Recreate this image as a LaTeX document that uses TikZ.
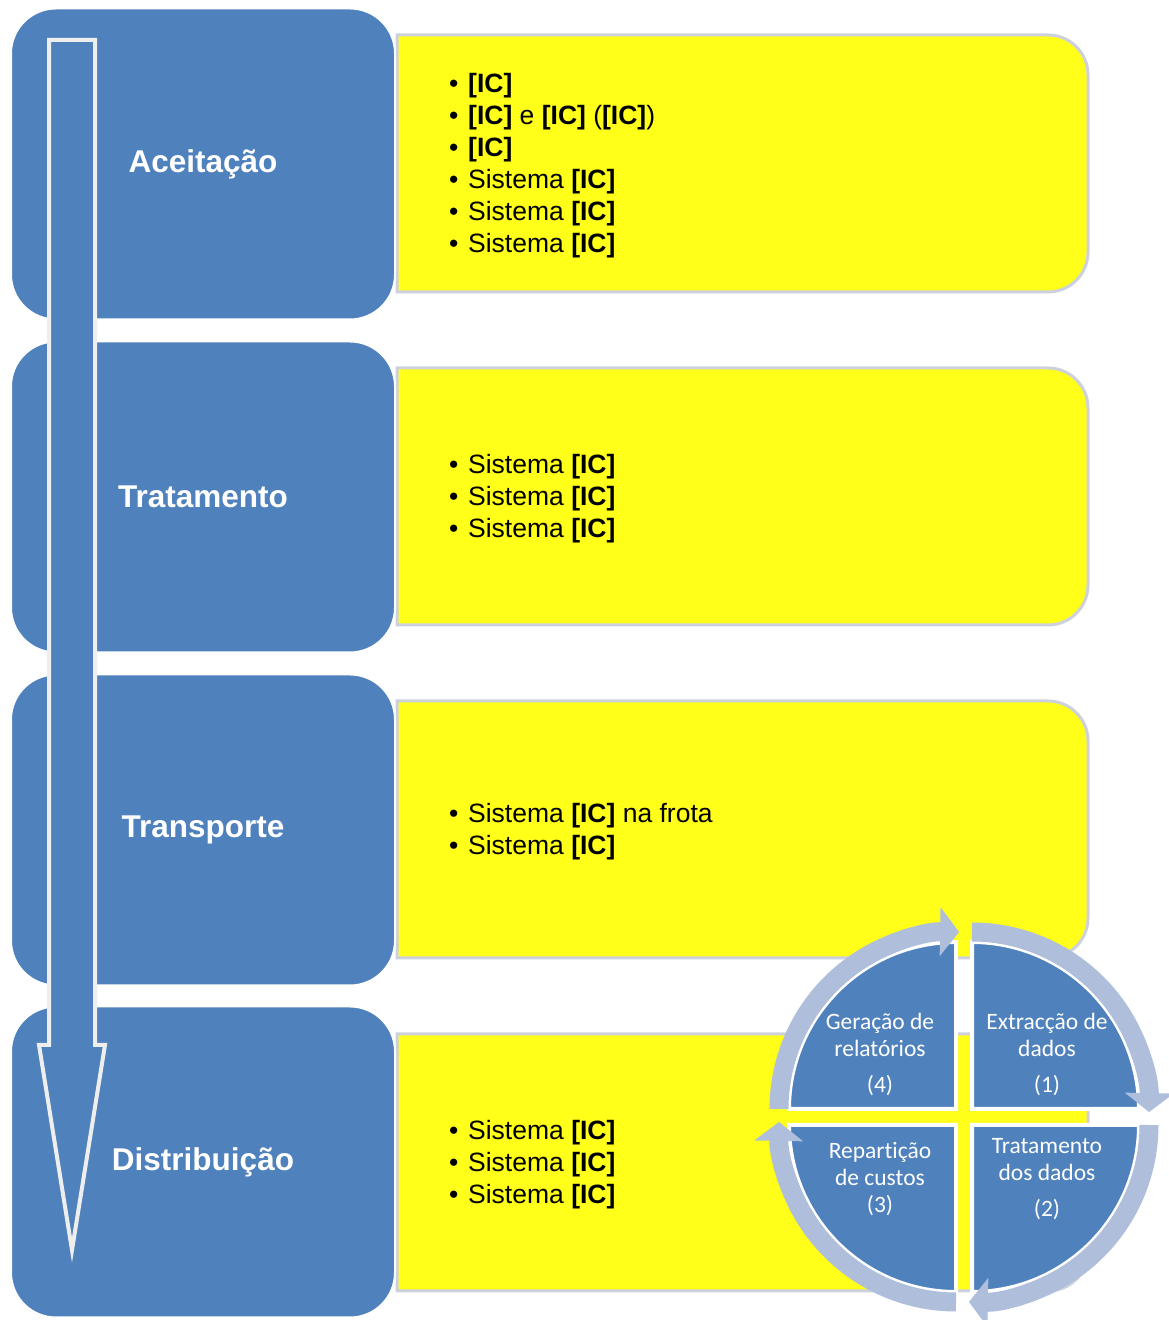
\documentclass[tikz,border=0pt]{standalone}
\usepackage{fontspec}
\setmainfont{Liberation Sans}
\newfontfamily\cyclefont[Ligatures=NoCommon]{Carlito}
\usetikzlibrary{arrows.meta}

\definecolor{boxblue}{HTML}{4F81BD}
\definecolor{panelyellow}{HTML}{FFFF1A}
\definecolor{panelrim}{HTML}{CDD1DD}
\definecolor{ringblue}{HTML}{AFBEDB}
\definecolor{arrowrim}{HTML}{EEEEEE}

\newcommand\bul{\makebox[19pt][l]{•}}

\tikzset{
  stage/.style={draw=white, line width=2pt, fill=boxblue, rounded corners=45pt,
    minimum width=384pt, minimum height=311pt, text=white,
    font=\fontsize{31.5pt}{37pt}\selectfont\bfseries},
  panel/.style={draw=panelrim, line width=3pt, fill=panelyellow},
  itemlist/.style={anchor=west, align=left, inner sep=0pt,
    font=\fontsize{26.5pt}{32pt}\selectfont},
  quarter/.style={draw=white, line width=4pt, fill=boxblue},
  ring/.style={draw=ringblue, line width=19pt, -{Triangle[width=48pt,length=19pt]}},
  cyclelabel/.style={text=white, align=center, font=\cyclefont\fontsize{23.5pt}{27pt}\selectfont}
}

\begin{document}
\begin{tikzpicture}[x=1pt,y=1pt]
\fill[white] (0,0) rectangle (1168,1320);
\useasboundingbox (0,0) rectangle (1168,1320);

% yellow panels
\foreach \t in {1285,952,619,286}
  \draw[panel] (397,\t-257) -- (397,\t) -- (1048,\t) arc[start angle=90,end angle=0,radius=40]
    -- (1088,\t-217) arc[start angle=0,end angle=-90,radius=40] -- cycle;

% stages
\node[stage] (accept) at (203,1156) {Aceitação};
\node[stage] (treat) at (203,823) {Tratamento};
\node[stage] (transp) at (203,490) {Transporte};
\node[stage] (distr) at (203,158) {Distribuição};

\node[itemlist] (acceptlist) at (449,1154) {\bul\textbf{[IC]}\\
  \bul\textbf{[IC]} e \textbf{[IC]} (\textbf{[IC]})\\
  \bul\textbf{[IC]}\\
  \bul Sistema \textbf{[IC]}\\
  \bul Sistema \textbf{[IC]}\\
  \bul Sistema \textbf{[IC]}};
\node[itemlist] (treatlist) at (449,821) {\bul Sistema \textbf{[IC]}\\
  \bul Sistema \textbf{[IC]}\\
  \bul Sistema \textbf{[IC]}};
\node[itemlist] (transplist) at (449,488) {\bul Sistema \textbf{[IC]} na frota\\
  \bul Sistema \textbf{[IC]}};
\node[itemlist] (distrlist) at (449,155) {\bul Sistema \textbf{[IC]}\\
  \bul Sistema \textbf{[IC]}\\
  \bul Sistema \textbf{[IC]}};

% big arrow down
\draw[fill=boxblue, draw=arrowrim, line width=4pt] (49,1280) -- (95,1280) -- (95,275)
  -- (105,275) -- (72,70) -- (39,275) -- (49,275) -- cycle;

% cycle
\draw[quarter] (956,211) -- ++(-167,0) arc[start angle=180,end angle=90,radius=167] -- cycle;
\draw[quarter] (972,211) -- ++(0,167) arc[start angle=90,end angle=0,radius=167] -- cycle;
\draw[quarter] (972,195) -- ++(167,0) arc[start angle=0,end angle=-90,radius=167] -- cycle;
\draw[quarter] (956,195) -- ++(0,-167) arc[start angle=270,end angle=180,radius=167] -- cycle;

\draw[ring] (956,211) ++(180:177) arc[start angle=180,end angle=89,radius=177];
\draw[ring] (972,211) ++(90:177) arc[start angle=90,end angle=-1,radius=177];
\draw[ring] (972,195) ++(0:177) arc[start angle=0,end angle=-91,radius=177];
\draw[ring] (956,195) ++(270:177) arc[start angle=270,end angle=179,radius=177];

\node[cyclelabel] (step1) at (1047,266) {Extracção de\\dados\\[9pt](1)};
\node[cyclelabel] (step2) at (1047,141) {Tratamento\\dos dados\\[9pt](2)};
\node[cyclelabel] (step3) at (880,141) {Repartição\\de custos\\(3)};
\node[cyclelabel] (step4) at (880,266) {Geração de\\relatórios\\[9pt](4)};
\end{tikzpicture}
\end{document}
